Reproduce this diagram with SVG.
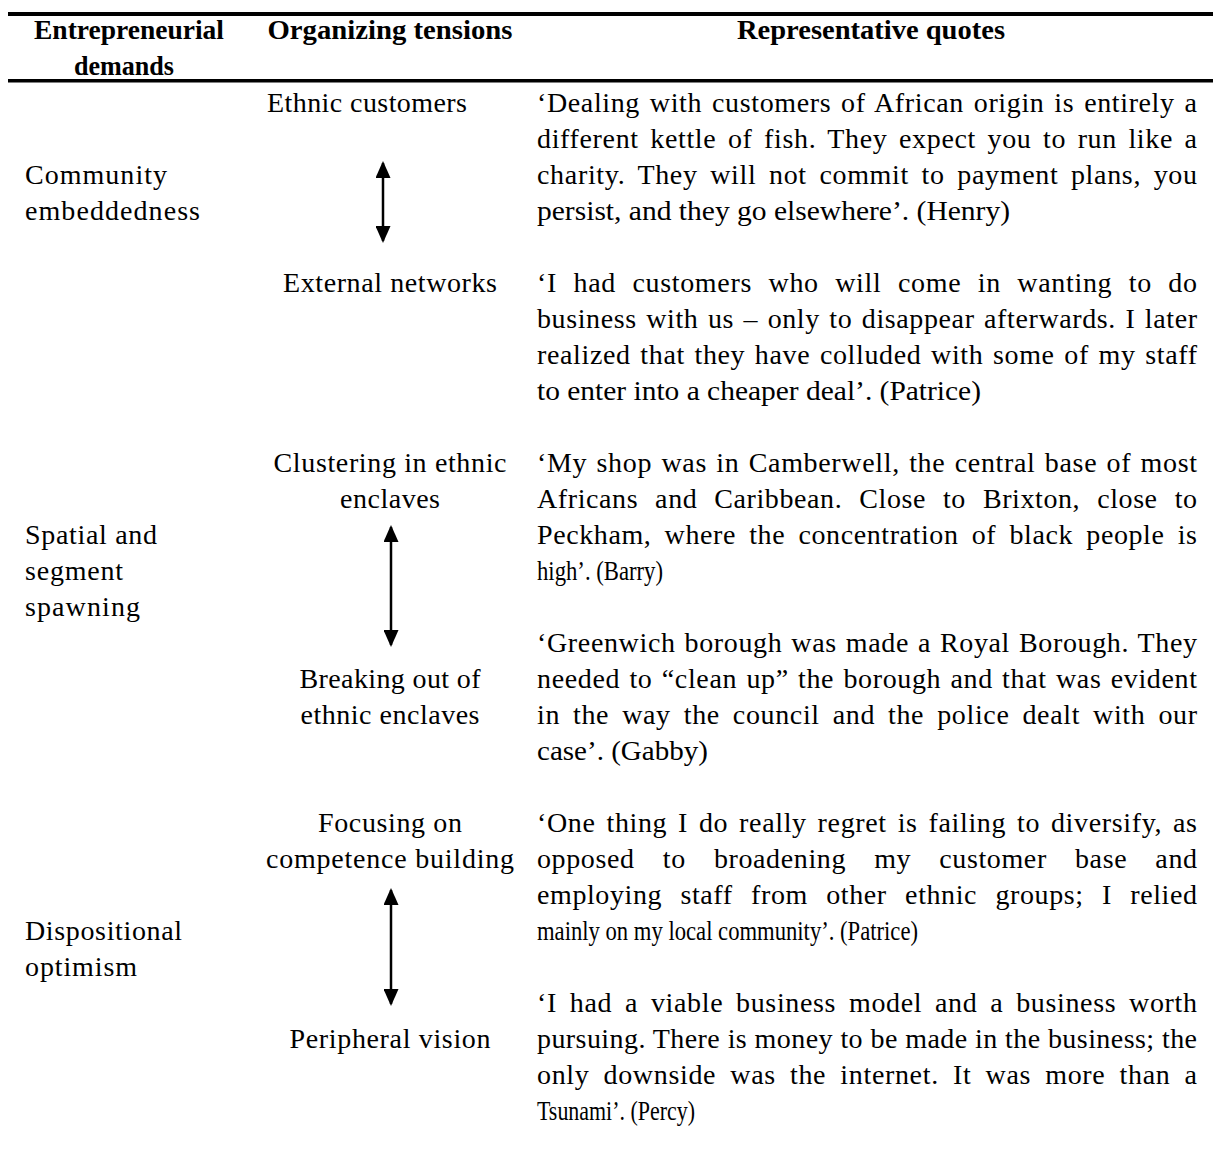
<svg xmlns="http://www.w3.org/2000/svg" width="1213" height="1157" viewBox="0 0 1213 1157">
<style>
.t{font-family:"Liberation Serif","Times New Roman",serif;font-size:28px;fill:#000}
.b{font-weight:bold;font-size:27px}
.c{text-anchor:middle}
.rule{fill:#000}
.conn{stroke:#000;stroke-width:2.5;fill:none}
</style>
<defs>
<marker id="ah" viewBox="0 0 17 15" refX="15" refY="7.5" markerWidth="17" markerHeight="15" markerUnits="userSpaceOnUse" orient="auto-start-reverse">
<path d="M0,0 L17,7.5 L0,15 z" fill="#000"/>
</marker>
</defs>
<rect width="1213" height="1157" fill="#fff"/>
<g id="rules">
<rect class="rule" x="8" y="12" width="1205" height="4"/>
<rect class="rule" x="8" y="79" width="1205" height="3.5"/>
</g>
<g id="header">
<text class="t b c" x="129" y="39" textLength="190" lengthAdjust="spacingAndGlyphs">Entrepreneurial</text>
<text class="t b c" x="124" y="75" textLength="100" lengthAdjust="spacingAndGlyphs">demands</text>
<text class="t b c" x="390" y="39" textLength="245" lengthAdjust="spacingAndGlyphs">Organizing tensions</text>
<text class="t b c" x="871" y="39" textLength="268" lengthAdjust="spacingAndGlyphs">Representative quotes</text>
</g>
<g id="demand-community">
<text class="t" x="25" y="184" textLength="142" lengthAdjust="spacing">Community</text>
<text class="t" x="25" y="220" textLength="175" lengthAdjust="spacing">embeddedness</text>
</g>
<g id="demand-spatial">
<text class="t" x="25" y="544" textLength="132" lengthAdjust="spacing">Spatial and</text>
<text class="t" x="25" y="580" textLength="98" lengthAdjust="spacing">segment</text>
<text class="t" x="25" y="616" textLength="115" lengthAdjust="spacing">spawning</text>
</g>
<g id="demand-optimism">
<text class="t" x="25" y="940" textLength="157" lengthAdjust="spacing">Dispositional</text>
<text class="t" x="25" y="976" textLength="112" lengthAdjust="spacing">optimism</text>
</g>
<g id="tension-ethnic-customers">
<text class="t c" x="367" y="112" textLength="200" lengthAdjust="spacing">Ethnic customers</text>
</g>
<g id="tension-external-networks">
<text class="t c" x="390" y="292" textLength="214" lengthAdjust="spacing">External networks</text>
</g>
<g id="tension-clustering">
<text class="t c" x="390" y="472" textLength="233" lengthAdjust="spacing">Clustering in ethnic</text>
<text class="t c" x="390" y="508" textLength="100" lengthAdjust="spacing">enclaves</text>
</g>
<g id="tension-breaking-out">
<text class="t c" x="390" y="688" textLength="181" lengthAdjust="spacing">Breaking out of</text>
<text class="t c" x="390" y="724" textLength="179" lengthAdjust="spacing">ethnic enclaves</text>
</g>
<g id="tension-competence">
<text class="t c" x="390" y="832" textLength="144" lengthAdjust="spacing">Focusing on</text>
<text class="t c" x="390" y="868" textLength="248" lengthAdjust="spacing">competence building</text>
</g>
<g id="tension-peripheral">
<text class="t c" x="390" y="1048" textLength="201" lengthAdjust="spacing">Peripheral vision</text>
</g>
<g id="quote-henry">
<text class="t" x="537" y="112" textLength="660" lengthAdjust="spacing" style="word-spacing:2.3px">‘Dealing with customers of African origin is entirely a</text>
<text class="t" x="537" y="148" textLength="660" lengthAdjust="spacing" style="word-spacing:3.9px">different kettle of fish. They expect you to run like a</text>
<text class="t" x="537" y="184" textLength="660" lengthAdjust="spacing" style="word-spacing:4.9px">charity. They will not commit to payment plans, you</text>
<text class="t" x="537" y="220" textLength="473" lengthAdjust="spacingAndGlyphs">persist, and they go elsewhere’. (Henry)</text>
</g>
<g id="quote-patrice-1">
<text class="t" x="537" y="292" textLength="660" lengthAdjust="spacing" style="word-spacing:8.8px">‘I had customers who will come in wanting to do</text>
<text class="t" x="537" y="328" textLength="660" lengthAdjust="spacing" style="word-spacing:1.9px">business with us – only to disappear afterwards. I later</text>
<text class="t" x="537" y="364" textLength="660" lengthAdjust="spacing" style="word-spacing:2px">realized that they have colluded with some of my staff</text>
<text class="t" x="537" y="400" textLength="444" lengthAdjust="spacingAndGlyphs">to enter into a cheaper deal’. (Patrice)</text>
</g>
<g id="quote-barry">
<text class="t" x="537" y="472" textLength="660" lengthAdjust="spacing" style="word-spacing:1.7px">‘My shop was in Camberwell, the central base of most</text>
<text class="t" x="537" y="508" textLength="660" lengthAdjust="spacing" style="word-spacing:9.4px">Africans and Caribbean. Close to Brixton, close to</text>
<text class="t" x="537" y="544" textLength="660" lengthAdjust="spacing" style="word-spacing:5.6px">Peckham, where the concentration of black people is</text>
<text class="t" x="537" y="580" textLength="126" lengthAdjust="spacingAndGlyphs">high’. (Barry)</text>
</g>
<g id="quote-gabby">
<text class="t" x="537" y="652" textLength="660" lengthAdjust="spacing" style="word-spacing:1.3px">‘Greenwich borough was made a Royal Borough. They</text>
<text class="t" x="537" y="688" textLength="660" lengthAdjust="spacing" style="word-spacing:1.6px">needed to “clean up” the borough and that was evident</text>
<text class="t" x="537" y="724" textLength="660" lengthAdjust="spacing" style="word-spacing:5.3px">in the way the council and the police dealt with our</text>
<text class="t" x="537" y="760" textLength="171" lengthAdjust="spacingAndGlyphs">case’. (Gabby)</text>
</g>
<g id="quote-patrice-2">
<text class="t" x="537" y="832" textLength="660" lengthAdjust="spacing" style="word-spacing:3.2px">‘One thing I do really regret is failing to diversify, as</text>
<text class="t" x="537" y="868" textLength="660" lengthAdjust="spacing" style="word-spacing:20.5px">opposed to broadening my customer base and</text>
<text class="t" x="537" y="904" textLength="660" lengthAdjust="spacing" style="word-spacing:10.8px">employing staff from other ethnic groups; I relied</text>
<text class="t" x="537" y="940" textLength="381" lengthAdjust="spacingAndGlyphs">mainly on my local community’. (Patrice)</text>
</g>
<g id="quote-percy">
<text class="t" x="537" y="1012" textLength="660" lengthAdjust="spacing" style="word-spacing:5.2px">‘I had a viable business model and a business worth</text>
<text class="t" x="537" y="1048" textLength="660" lengthAdjust="spacing" style="word-spacing:0px">pursuing. There is money to be made in the business; the</text>
<text class="t" x="537" y="1084" textLength="660" lengthAdjust="spacing" style="word-spacing:6.5px">only downside was the internet. It was more than a</text>
<text class="t" x="537" y="1120" textLength="158" lengthAdjust="spacingAndGlyphs">Tsunami’. (Percy)</text>
</g>
<g id="connectors">
<line class="conn" x1="383" y1="163" x2="383" y2="241" marker-start="url(#ah)" marker-end="url(#ah)"/>
<line class="conn" x1="391" y1="527" x2="391" y2="645" marker-start="url(#ah)" marker-end="url(#ah)"/>
<line class="conn" x1="391" y1="890" x2="391" y2="1004" marker-start="url(#ah)" marker-end="url(#ah)"/>
</g>
</svg>
